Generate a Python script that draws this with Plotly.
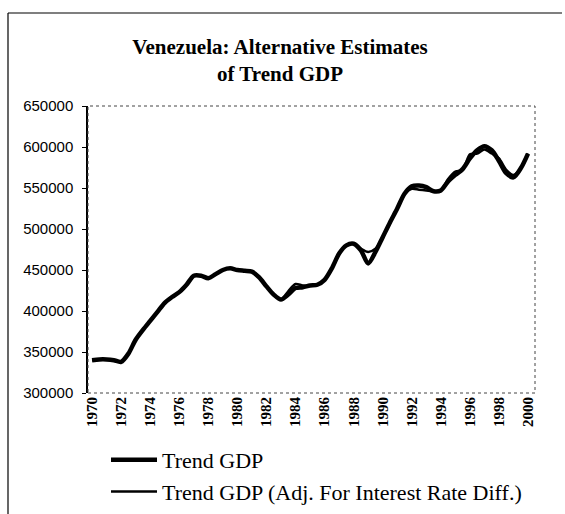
import plotly.graph_objects as go

# Half-yearly observation points (decimal years)
years = [1970.0 + 0.5 * i for i in range(61)]

trend_gdp = [
    340000, 341000, 341000, 340000, 338000, 348000, 365000, 377000, 388000, 399000,
    410000, 417000, 423000, 432000, 443000, 443000, 440000, 445000, 450000, 452000,
    450000, 449000, 448000, 441000, 430000, 420000, 414000, 420000, 428000, 429000,
    431000, 432000, 438000, 452000, 470000, 480000, 482000, 474000, 458000, 472000,
    490000, 508000, 525000, 543000, 552000, 553000, 551000, 546000, 547000, 558000,
    566000, 573000, 586000, 596000, 601000, 596000, 583000, 568000, 563000, 574000,
    592000,
]

trend_gdp_adj = [
    340000, 341000, 341000, 340000, 338000, 348000, 365000, 377000, 388000, 399000,
    410000, 417000, 423000, 432000, 443000, 443000, 440000, 445000, 450000, 452000,
    450000, 449000, 448000, 441000, 430000, 420000, 414000, 424000, 433000, 431000,
    431000, 432000, 438000, 452000, 470000, 480000, 482000, 476000, 472000, 476000,
    490000, 508000, 525000, 543000, 549000, 548000, 547000, 546000, 547000, 561000,
    570000, 572000, 591000, 592000, 597000, 592000, 586000, 572000, 566000, 574000,
    592000,
]

tick_years = list(range(1970, 2001, 2))
y_ticks = [300000, 350000, 400000, 450000, 500000, 550000, 600000, 650000]

W, H = 565, 514
L, R, T, B = 88, 30, 106, 121

fig = go.Figure()
fig.add_trace(go.Scatter(
    x=years, y=trend_gdp, mode="lines", name="Trend GDP",
    line=dict(color="black", width=4.5, shape="spline", smoothing=0.8),
))
fig.add_trace(go.Scatter(
    x=years, y=trend_gdp_adj, mode="lines",
    name="Trend GDP (Adj. For Interest Rate Diff.)",
    line=dict(color="black", width=2.5, shape="spline", smoothing=0.8),
))


def px_x(px):
    return (px - L) / (W - L - R)


def px_y(py):
    return (H - B - py) / (H - T - B)


fig.update_layout(
    width=W, height=H,
    margin=dict(l=L, r=R, t=T, b=B, autoexpand=False),
    paper_bgcolor="white", plot_bgcolor="white",
    showlegend=True,
    title=dict(
        text="<b>Venezuela: Alternative Estimates<br>of Trend GDP</b>",
        x=280 / W, xref="container", xanchor="center",
        y=1 - 54 / H, yref="container", yanchor="top",
        font=dict(family="Liberation Serif", size=21, color="black"),
    ),
    xaxis=dict(
        range=[1969.72, 2000.48],
        tickvals=tick_years, ticktext=[str(y) for y in tick_years],
        tickangle=-90, ticks="", showgrid=False, zeroline=False,
        showline=False,
        tickfont=dict(family="Liberation Serif", size=15, color="black",
                      weight="bold"),
    ),
    yaxis=dict(
        range=[300000, 650000], tickvals=y_ticks,
        ticktext=[str(v) for v in y_ticks],
        ticks="outside", ticklen=4, tickcolor="black",
        ticklabelstandoff=6,
        showgrid=False, zeroline=False,
        showline=True, linecolor="black", linewidth=1.5,
        tickfont=dict(family="Liberation Sans", size=15, color="black"),
    ),
    legend=dict(
        xref="container", yref="container",
        x=106 / W, xanchor="left",
        y=1 - 439 / H, yanchor="top",
        font=dict(family="Liberation Serif", size=22, color="black"),
        bgcolor="rgba(0,0,0,0)", tracegroupgap=0,
        itemwidth=46,
    ),
    shapes=[
        # dotted plot-area border
        dict(type="rect", xref="paper", yref="paper", x0=0, y0=0, x1=1, y1=1,
             line=dict(color="#444", width=1, dash="dot")),
        # outer frame: left and top edges
        dict(type="line", xref="paper", yref="paper",
             x0=px_x(8), y0=px_y(13), x1=px_x(8), y1=px_y(514),
             line=dict(color="black", width=1.2)),
        dict(type="line", xref="paper", yref="paper",
             x0=px_x(8), y0=px_y(13), x1=px_x(562), y1=px_y(13),
             line=dict(color="black", width=1.2)),
    ],
)

fig.write_html("out.html")
